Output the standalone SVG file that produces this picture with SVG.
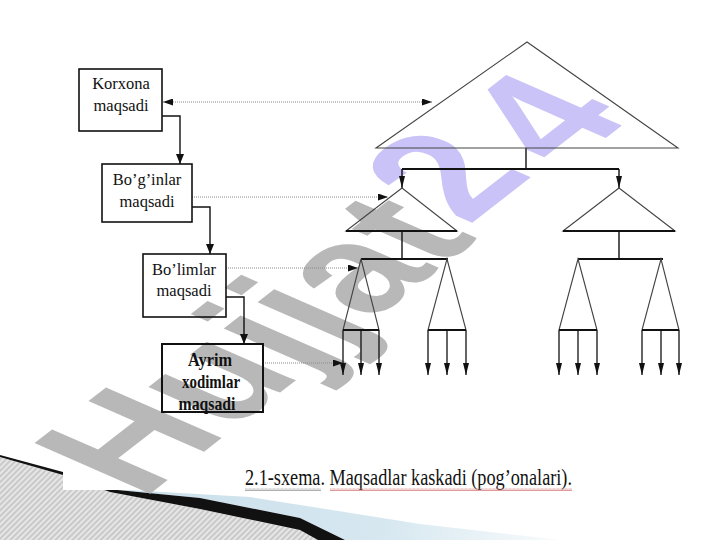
<svg xmlns="http://www.w3.org/2000/svg" width="720" height="540" viewBox="0 0 720 540">
<style>
.box{fill:none;stroke:#111;stroke-width:1.6}
.t{font-family:"Liberation Serif","Times New Roman",serif;font-size:16.5px;fill:#111;text-anchor:middle}
.tb{font-family:"Liberation Serif","Times New Roman",serif;font-size:19px;font-weight:bold;fill:#111;text-anchor:middle}
.thin{fill:none;stroke:#444;stroke-width:1.1}
.bar{fill:none;stroke:#111;stroke-width:2}
.con{fill:none;stroke:#111;stroke-width:1.4}
.dot{fill:none;stroke:#8a8a8a;stroke-width:1;stroke-dasharray:1 1}
.leaf{fill:none;stroke:#111;stroke-width:1.3}
</style>
<defs>
<marker id="ah" viewBox="0 0 10 8" refX="10" refY="4" markerWidth="10" markerHeight="8" markerUnits="userSpaceOnUse" orient="auto-start-reverse"><path d="M0,0 L10,4 L0,8 z" fill="#111"/></marker>
<marker id="ahs" viewBox="0 0 12 6" refX="12" refY="3" markerWidth="12" markerHeight="6" markerUnits="userSpaceOnUse" orient="auto"><path d="M0,0 L12,3 L0,6 z" fill="#111"/></marker>
<marker id="ahd" viewBox="0 0 10 7" refX="10" refY="3.5" markerWidth="10" markerHeight="7" markerUnits="userSpaceOnUse" orient="auto-start-reverse"><path d="M0,0 L10,3.5 L0,7 z" fill="#111"/></marker>
<pattern id="hatch" width="4" height="4" patternUnits="userSpaceOnUse" patternTransform="rotate(45)"><rect width="4" height="4" fill="#e6e6e6"/><rect width="2" height="4" fill="#c9c9c9"/></pattern>
<linearGradient id="blue" x1="0" y1="0" x2="1" y2="0"><stop offset="0" stop-color="#c9dfeb"/><stop offset="0.6" stop-color="#d6e7f0"/><stop offset="1" stop-color="#f7fbfc"/></linearGradient>
<pattern id="sqg" width="4" height="3" patternUnits="userSpaceOnUse"><path d="M0,2.5 L1,0.5 L2,2.5 L3,0.5 L4,2.5" fill="none" stroke="#9a9a9a" stroke-width="0.8"/></pattern>
<pattern id="sqr" width="4" height="3" patternUnits="userSpaceOnUse"><path d="M0,2.5 L1,0.5 L2,2.5 L3,0.5 L4,2.5" fill="none" stroke="#d88080" stroke-width="0.8"/></pattern>
</defs>
<rect width="720" height="540" fill="#fff"/>
<g id="decoration">
<path d="M110,489 L250,497 L420,524 L560,540 L345,540 L300,518 L200,498 L107,489 Z" fill="url(#blue)"/>
<path d="M0,457 L63,475 L110,492 L200,509 L300,530 L318,540 L0,540 Z" fill="url(#hatch)"/>
<path d="M0,455 L63,472 L107,489 L200,498 L300,518 L345,540 L318,540 L300,530 L200,509 L110,492 L63,475 L0,457 Z" fill="#111"/>
<rect x="63" y="0" width="657" height="490" fill="#fff"/>
</g>
<g id="watermark" font-family="Liberation Sans, Arial, sans-serif" font-weight="bold" font-size="150">
<text x="0" y="0" transform="matrix(0.81 -0.63 1.12 0.49 142 500)"><tspan fill="#b8b8b8">Hujjat</tspan><tspan fill="#cac3f7"> </tspan><tspan fill="#cac3f7" dx="-35" dy="-15">2</tspan><tspan fill="#cac3f7" dx="18" dy="14">4</tspan></text>
</g>
<g id="connectors">
<path class="con" d="M162,116 H180 V164" marker-end="url(#ah)"/>
<path class="con" d="M192,207 H210 V254" marker-end="url(#ah)"/>
<path class="con" d="M226,297 H244 V344" marker-end="url(#ah)"/>
<path class="dot" d="M163,102 H432" marker-start="url(#ahd)" marker-end="url(#ahd)"/>
<path class="dot" d="M192,197 H388" marker-end="url(#ahd)"/>
<path class="dot" d="M226,268 H358" marker-end="url(#ahd)"/>
<path class="dot" d="M263,363 H343" marker-end="url(#ahd)"/>
<path class="con" d="M526,148 V169"/>
<path class="bar" d="M402,169 H619"/>
<path class="con" d="M402,169 V188" marker-end="url(#ahs)"/>
<path class="con" d="M619,169 V188" marker-end="url(#ahs)"/>
<path class="con" d="M402,231 V259"/>
<path class="con" d="M619,231 V259"/>
<path class="bar" d="M361,259 H448"/>
<path class="bar" d="M578,259 H663"/>
</g>
<g id="top-triangle"><path class="thin" d="M527,42 L376,148 L678,148 Z"/></g>
<g id="mid-triangle-left"><path class="thin" d="M402,188 L346,231 L457,231 Z"/><path class="bar" d="M346,231 H457"/></g>
<g id="mid-triangle-right"><path class="thin" d="M619,188 L563,231 L675,231 Z"/><path class="bar" d="M563,231 H675"/></g>
<g id="leaf-1"><path class="thin" d="M343,330 L361,259 L379,330"/><path class="bar" d="M343,330 H379"/>
<path class="leaf" d="M343,330 V375" marker-end="url(#ahs)"/><path class="leaf" d="M361,330 V375" marker-end="url(#ahs)"/><path class="leaf" d="M379,330 V375" marker-end="url(#ahs)"/></g>
<g id="leaf-2"><path class="thin" d="M428,330 L447,259 L466,330"/><path class="bar" d="M428,330 H466"/>
<path class="leaf" d="M428,330 V375" marker-end="url(#ahs)"/><path class="leaf" d="M447,330 V375" marker-end="url(#ahs)"/><path class="leaf" d="M466,330 V375" marker-end="url(#ahs)"/></g>
<g id="leaf-3"><path class="thin" d="M559,330 L578,259 L597,330"/><path class="bar" d="M559,330 H597"/>
<path class="leaf" d="M559,330 V375" marker-end="url(#ahs)"/><path class="leaf" d="M578,330 V375" marker-end="url(#ahs)"/><path class="leaf" d="M597,330 V375" marker-end="url(#ahs)"/></g>
<g id="leaf-4"><path class="thin" d="M642,330 L661,259 L679,330"/><path class="bar" d="M642,330 H679"/>
<path class="leaf" d="M642,330 V375" marker-end="url(#ahs)"/><path class="leaf" d="M661,330 V375" marker-end="url(#ahs)"/><path class="leaf" d="M679,330 V375" marker-end="url(#ahs)"/></g>
<g id="korxona"><rect class="box" x="79" y="69" width="83" height="62"/><text class="t" x="121" y="89">Korxona</text><text class="t" x="121" y="111">maqsadi</text></g>
<g id="boginlar"><rect class="box" x="102" y="164" width="90" height="58"/><text class="t" x="147" y="185">Bo’g’inlar</text><text class="t" x="147" y="207">maqsadi</text></g>
<g id="bolimlar"><rect class="box" x="143" y="254" width="83" height="63"/><text class="t" x="184" y="275">Bo’limlar</text><text class="t" x="184" y="296">maqsadi</text></g>
<g id="xodimlar"><rect class="box" x="162" y="344" width="101" height="68" style="stroke-width:2"/>
<text class="tb" x="210" y="366" textLength="44" lengthAdjust="spacingAndGlyphs">Ayrim</text>
<text class="tb" x="211" y="388" textLength="58" lengthAdjust="spacingAndGlyphs">xodimlar</text>
<text class="tb" x="207" y="410" textLength="57" lengthAdjust="spacingAndGlyphs">maqsadi</text></g>
<g id="caption">
<text x="245" y="485" font-family="Liberation Serif, Times New Roman, serif" font-size="24" fill="#111" textLength="327" lengthAdjust="spacingAndGlyphs">2.1-sxema. Maqsadlar kaskadi (pog’onalari).</text>
<rect x="245" y="488" width="76" height="3" fill="url(#sqg)"/>
<rect x="330" y="488" width="242" height="3" fill="url(#sqr)"/>
</g>
</svg>
